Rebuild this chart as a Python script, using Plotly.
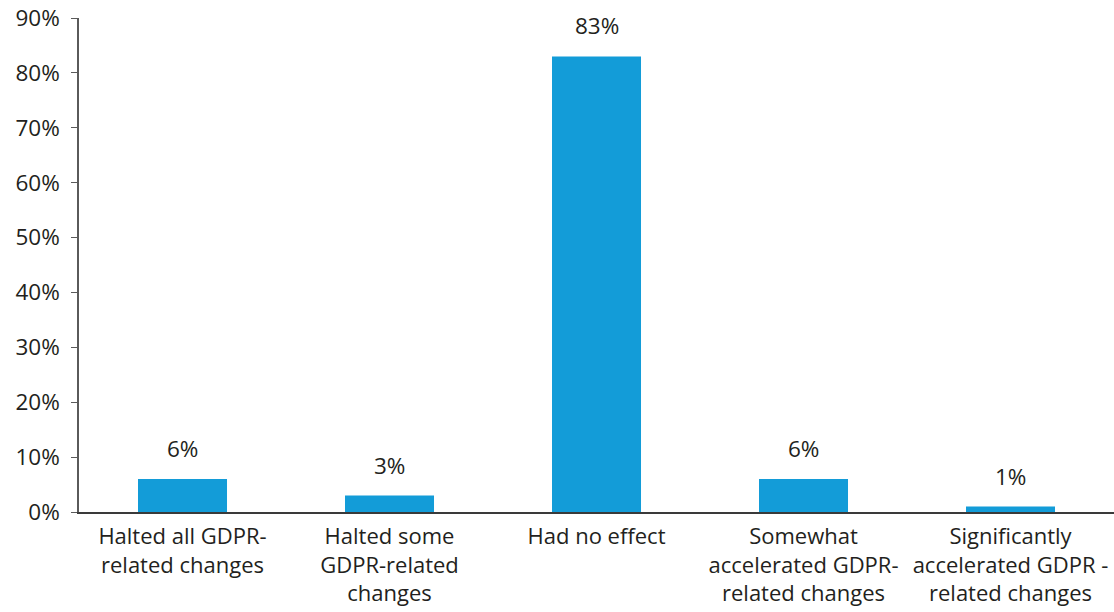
import plotly.graph_objects as go

categories = [
    "Halted all GDPR-<br>related changes",
    "Halted some<br>GDPR-related<br>changes",
    "Had no effect",
    "Somewhat<br>accelerated GDPR-<br>related changes",
    "Significantly<br>accelerated GDPR -<br>related changes",
]
values = [6, 3, 83, 6, 1]
tick_vals = [0, 10, 20, 30, 40, 50, 60, 70, 80, 90]
tick_text = [f"{v}%" for v in tick_vals]

FONT = "Open Sans, Lato, sans-serif"
BAR_COLOR = "#139cd8"
TEXT_COLOR = "#231f20"
SIZE = 22.5

fig = go.Figure(
    go.Bar(
        x=categories,
        y=values,
        marker=dict(color=BAR_COLOR, line=dict(width=0)),
        width=0.43,
    )
)

for c, v in zip(categories, values):
    fig.add_annotation(
        x=c, y=v, text=f"{v}%", showarrow=False,
        yanchor="bottom", yshift=13,
        font=dict(family=FONT, size=SIZE, color=TEXT_COLOR),
    )

fig.update_layout(
    width=1114, height=612,
    margin=dict(l=79, r=0, t=18, b=100),
    paper_bgcolor="white", plot_bgcolor="white",
    showlegend=False,
    font=dict(family=FONT, size=SIZE, color=TEXT_COLOR),
)
fig.update_xaxes(
    showline=True, linecolor="#3a3a3a", linewidth=1.5,
    ticks="", showgrid=False, tickfont=dict(size=22),
    ticklabelstandoff=4, automargin=False,
)
fig.update_yaxes(
    range=[0, 90], tickvals=tick_vals, ticktext=tick_text,
    showline=True, linecolor="#5a5a5a", linewidth=1.5,
    ticks="outside", ticklen=6, tickcolor="#5a5a5a",
    showgrid=False, zeroline=False, tickfont=dict(size=SIZE),
    ticklabelstandoff=7, automargin=False,
)

fig.write_html("out.html")
